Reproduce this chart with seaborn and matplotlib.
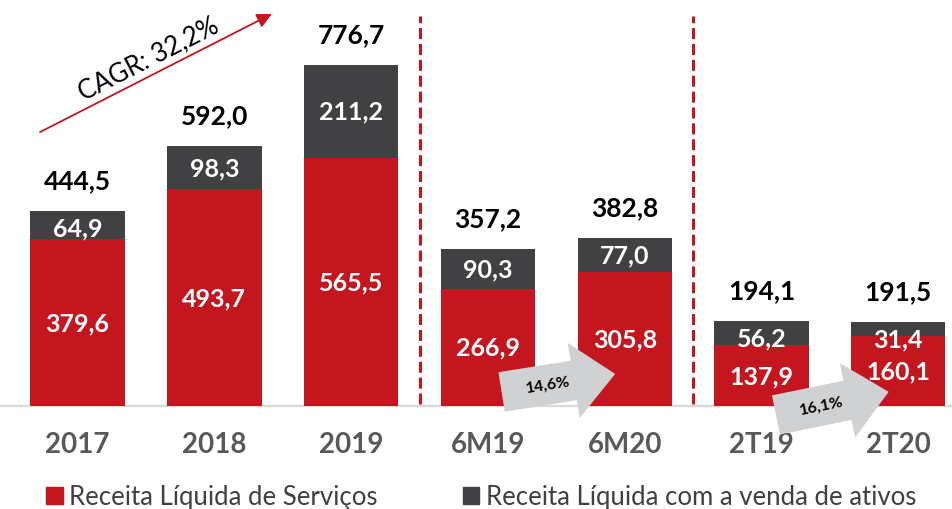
import numpy as np
import pandas as pd
import matplotlib
matplotlib.use("Agg")
import matplotlib.pyplot as plt
import seaborn as sns
from matplotlib.patches import Polygon, Patch
from matplotlib.transforms import Affine2D

# ---- data ----
categories = ["2017", "2018", "2019", "6M19", "6M20", "2T19", "2T20"]
servicos = [379.6, 493.7, 565.5, 266.9, 305.8, 137.9, 160.1]
ativos = [64.9, 98.3, 211.2, 90.3, 77.0, 56.2, 31.4]
totais = [444.5, 592.0, 776.7, 357.2, 382.8, 194.1, 191.5]
growth_labels = ["14,6%", "16,1%"]
cagr_label = "CAGR: 32,2%"
legend_labels = ["Receita Líquida de Serviços", "Receita Líquida com a venda de ativos"]

RED = "#C3161F"
DARK = "#414143"
GREY_TXT = "#595959"
ARROW_GREY = "#D0D1D3"

sns.set_theme(style="white")
plt.rcParams["font.family"] = ["Lato", "DejaVu Sans"]

def fmt(v):
    return f"{v:.1f}".replace(".", ",")

df = pd.DataFrame({"cat": categories, "serv": servicos, "ativ": ativos, "total": totais})

fig = plt.figure(figsize=(9.53, 5.10), dpi=100)
ax = fig.add_axes([0, 0.202, 1, 0.798])

sns.barplot(data=df, x="cat", y="total", color=DARK, width=0.69, saturation=1,
            ax=ax, edgecolor="none", zorder=2)
sns.barplot(data=df, x="cat", y="serv", color=RED, width=0.69, saturation=1,
            ax=ax, edgecolor="none", zorder=3)

ax.set_xlim(-0.567, 6.40)
ax.set_ylim(0, 927)
ax.set_xlabel("")
ax.set_ylabel("")
ax.set_yticks([])
for s in ax.spines.values():
    s.set_visible(False)
ax.tick_params(axis="x", length=0, pad=18, labelsize=20, labelcolor=GREY_TXT)
for t in ax.get_xticklabels():
    t.set_fontweight("bold")

# baseline
ax.axhline(0, color="#D9D9D9", lw=1.6, zorder=1, clip_on=False)

# value labels
for i, (s, a, t) in enumerate(zip(servicos, ativos, totais)):
    ax.text(i, s / 2, fmt(s), ha="center", va="center", color="white",
            fontsize=18, fontweight="bold", zorder=4)
    ax.text(i, min(s + a / 2, t - 38), fmt(a), ha="center", va="center",
            color="white", fontsize=18, fontweight="bold", zorder=4)
    ax.annotate(fmt(t), (i, t), xytext=(0, 22), textcoords="offset points",
                ha="center", va="center", color="black", fontsize=19,
                fontweight="bold", zorder=4)

# dashed separators
for xs in (2.5, 4.5):
    ax.plot([xs, xs], [5, 888], color=RED, lw=2.2, linestyle=(0, (3.6, 1.6)),
            zorder=1)

# CAGR arrow
ax.annotate("", xy=(1.42, 893), xytext=(-0.274, 624),
            arrowprops=dict(arrowstyle="-|>", color=RED, lw=1.3,
                            mutation_scale=22, shrinkA=0, shrinkB=0),
            annotation_clip=False)
ax.text(0.52, 792, cagr_label, rotation=27, rotation_mode="anchor",
        ha="center", va="center", fontsize=18.5, color="black")

# growth block arrows
fig.canvas.draw()

def block_arrow(x, y, angle, text):
    L, hl, tw, hw = 115, 42, 40, 76
    pts = [(0, -tw / 2), (L - hl, -tw / 2), (L - hl, -hw / 2), (L, 0),
           (L - hl, hw / 2), (L - hl, tw / 2), (0, tw / 2)]
    ox, oy = ax.transData.transform((x, y))
    tr = Affine2D().rotate_deg(angle).translate(ox, oy)
    poly = Polygon(pts, closed=True, transform=tr, facecolor=ARROW_GREY,
                   edgecolor="none", zorder=6, clip_on=False)
    ax.add_patch(poly)
    poly.set_transform(tr)
    r = np.deg2rad(angle)
    tx, ty = ox + 47 * np.cos(r), oy + 47 * np.sin(r)
    dx, dy = ax.transData.inverted().transform((tx, ty))
    ax.text(dx, dy, text, rotation=angle, rotation_mode="anchor", ha="center",
            va="center", fontsize=11.5, fontweight="bold", color="black",
            zorder=7, clip_on=False)

block_arrow(3.10, 32, 9, growth_labels[0])
block_arrow(5.106, -20.5, 11.6, growth_labels[1])

handles = [Patch(color=RED), Patch(color=DARK)]
fig.legend(handles, legend_labels, loc="center", bbox_to_anchor=(0.505, 0.024),
           ncol=2, frameon=False, fontsize=18.5, handlelength=0.65,
           handleheight=0.65, handletextpad=0.25, columnspacing=3.3,
           labelcolor="#404040")

fig.savefig("out.png", dpi=100)
